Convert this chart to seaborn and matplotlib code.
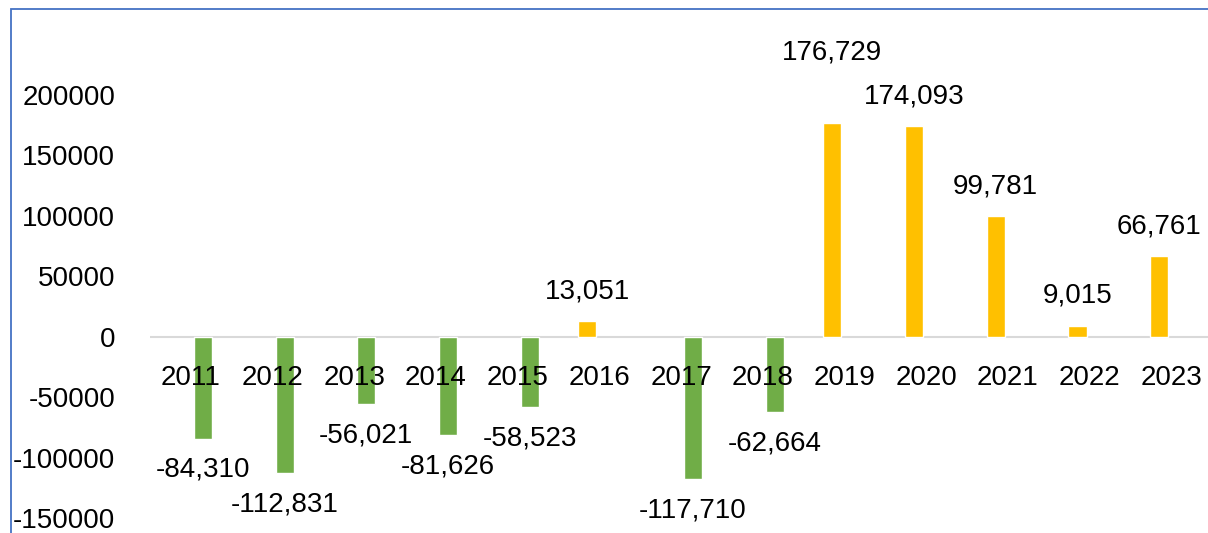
import matplotlib.pyplot as plt
import matplotlib.patches as patches
import seaborn as sns
import pandas as pd

# values
years = ['2011', '2012', '2013', '2014', '2015', '2016', '2017',
         '2018', '2019', '2020', '2021', '2022', '2023']
values = [-84310, -112831, -56021, -81626, -58523, 13051, -117710,
          -62664, 176729, 174093, 99781, 9015, 66761]
yticks = [-150000, -100000, -50000, 0, 50000, 100000, 150000, 200000]

df = pd.DataFrame({'year': years, 'value': values})
df['sign'] = ['neg' if v < 0 else 'pos' for v in values]
palette = {'neg': '#70AD47', 'pos': '#FFC000'}

sns.set_style('white')
plt.rcParams['font.family'] = ['Liberation Sans', 'DejaVu Sans']
plt.rcParams['text.color'] = 'black'
FS = 20

fig = plt.figure(figsize=(12.08, 5.33), dpi=100)
ax = fig.add_axes([150 / 1208, 15 / 533, 1 - 150 / 1208, (518 - 95) / 533])

# two series side by side, like an Excel clustered column chart
sns.barplot(data=df, x='year', y='value', hue='sign', palette=palette,
            order=years, hue_order=['pos', 'neg'], dodge=True, width=0.59,
            gap=0.25, legend=False, ax=ax, saturation=1)

ax.axhline(0, color='#D9D9D9', lw=1.5, zorder=0)
ax.set_ylim(-150000, 200000)
ax.set_xlim(-0.5, 12.45)
ax.set_yticks(yticks)
ax.set_yticklabels([str(t) for t in yticks], fontsize=FS, color='black')
ax.tick_params(axis='y', length=0, pad=25)
ax.set_xticks([])
ax.set_xlabel('')
ax.set_ylabel('')
for s in ax.spines.values():
    s.set_visible(False)

# year labels just under the zero line
for i, yr in enumerate(years):
    ax.annotate(yr, xy=(i, 0), xytext=(0, -29.5), textcoords='offset points',
                ha='center', va='center', fontsize=FS, color='black', zorder=5)

# data labels on each bar
for bar in ax.patches:
    v = bar.get_height()
    if pd.isna(v) or v == 0:
        continue
    xc = bar.get_x() + bar.get_width() / 2
    off = 21.5 if v >= 0 else -22.5
    if v > 175000:  # Excel pushed the 2019 label up to avoid 2020's
        off = 51
    ax.annotate(f'{v:,.0f}', xy=(xc, v), xytext=(0, off), textcoords='offset points',
                ha='center', va='center', fontsize=FS, color='black',
                annotation_clip=False)

# chart area border (cropped at right and bottom)
border = patches.Rectangle((10.5 / 1208, -0.1), 1.2, 1.1 - 9.5 / 533,
                           transform=fig.transFigure, fill=False,
                           edgecolor='#4472C4', lw=1.3, clip_on=False)
fig.patches.append(border)

fig.savefig('out.png', dpi=100)
